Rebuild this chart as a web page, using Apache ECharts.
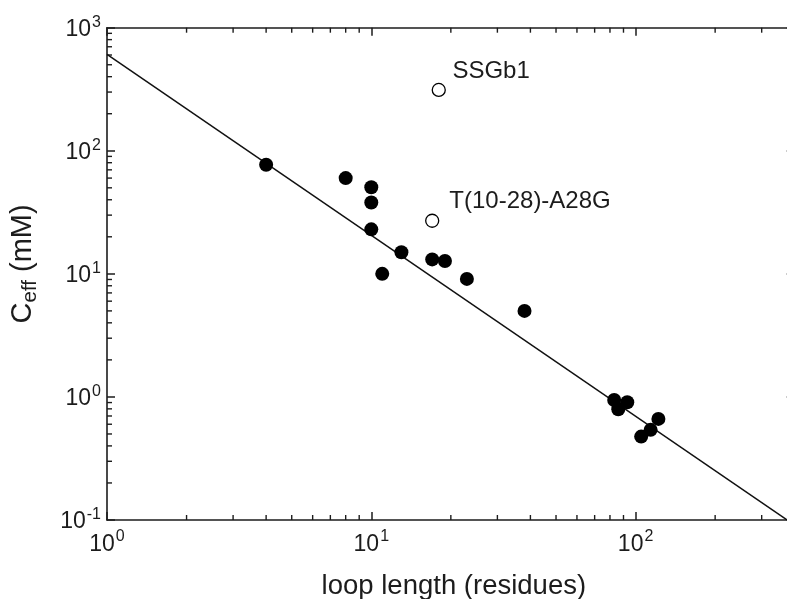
<!DOCTYPE html>
<html><head><meta charset="utf-8">
<script src="https://cdn.jsdelivr.net/npm/echarts@6/dist/echarts.min.js"></script>
<style>html,body{margin:0;padding:0;background:#fff}#c{width:787px;height:599px}</style>
</head><body><div id="c"></div>
<script>
// ---- data ----
const filledX = [4, 8, 10, 10, 10, 11, 13, 17, 19, 23, 38, 83, 86, 93, 105, 114, 122];
const filledY = [77, 60, 50.5, 38, 23, 10, 15, 13.1, 12.7, 9.1, 5.0, 0.945, 0.795, 0.906, 0.476, 0.54, 0.663];
const openX = [18, 17];
const openY = [312, 27];
const openNames = ['SSGb1', 'T(10-28)-A28G'];
const fitX = [1, 374];
const fitY = [608, 0.1];
const xMajorTicks = [1, 10, 100];
const yMajorTicks = [0.1, 1, 10, 100, 1000];
const xMinorTicks = [2, 3, 4, 5, 6, 7, 8, 9, 20, 30, 40, 50, 60, 70, 80, 90, 200, 300];
const yMinorTicks = [0.2, 0.3, 0.4, 0.5, 0.6, 0.7, 0.8, 0.9, 2, 3, 4, 5, 6, 7, 8, 9,
  20, 30, 40, 50, 60, 70, 80, 90, 200, 300, 400, 500, 600, 700, 800, 900];
const xTitle = 'loop length (residues)';
const yTitleMain = 'C', yTitleSub = 'eff', yTitleUnit = ' (mM)';
const X_MIN = 1, X_MAX = 400, Y_MIN = 0.1, Y_MAX = 1000;

// ---- chart ----
const INK = '#1c1c1c';
const FONT = 'Liberation Sans, Arial, sans-serif';
const chart = echarts.init(document.getElementById('c'), null, {renderer: 'canvas'});

function powLabel(list) {
  return function (v) {
    for (const t of list) {
      if (Math.abs(v - t) / t < 1e-6) {
        const e = Math.round(Math.log10(t));
        return '{b|10}{s|' + e + '}';
      }
    }
    return '';
  };
}
const labelRich = {
  b: {fontSize: 23, fontFamily: FONT, color: INK, lineHeight: 27, verticalAlign: 'bottom'},
  s: {fontSize: 16, fontFamily: FONT, color: INK, lineHeight: 16, verticalAlign: 'top', padding: [0, 0, 0, 1]}
};
const axisLine = {show: true, onZero: false, lineStyle: {color: INK, width: 1.6}};
const majorTick = {show: true, inside: true, length: 8, lineStyle: {color: INK, width: 1.5}};

const option = {
  animation: false,
  backgroundColor: '#fff',
  grid: {left: 107, top: 27.7, right: -7.7, bottom: 79, containLabel: false, outerBoundsMode: 'none'},
  xAxis: [
    {type: 'log', logBase: 10, min: X_MIN, max: X_MAX, position: 'bottom',
     axisLine: axisLine, axisTick: majorTick, splitLine: {show: false},
     axisLabel: {show: true, margin: 9, formatter: powLabel(xMajorTicks), rich: labelRich},
     name: xTitle, nameLocation: 'middle', nameGap: 52,
     nameTextStyle: {fontSize: 27.5, fontFamily: FONT, color: INK, padding: [0, 0, 0, 6]}},
    {type: 'log', logBase: 10, min: X_MIN, max: X_MAX, position: 'top',
     axisLine: axisLine, axisTick: majorTick, splitLine: {show: false}, axisLabel: {show: false}}
  ],
  yAxis: [
    {type: 'log', logBase: 10, min: Y_MIN, max: Y_MAX, position: 'left',
     axisLine: axisLine, axisTick: majorTick, splitLine: {show: false},
     axisLabel: {show: true, margin: 6, formatter: powLabel(yMajorTicks), rich: labelRich},
     name: '{c|' + yTitleMain + '}{sub|' + yTitleSub + '}{c|' + yTitleUnit + '}',
     nameLocation: 'middle', nameGap: 66, nameRotate: 90,
     nameTextStyle: {padding: [0, 0, 0, 20], rich: {
       c: {fontSize: 29, fontFamily: FONT, color: INK, lineHeight: 33, verticalAlign: 'top'},
       sub: {fontSize: 20.5, fontFamily: FONT, color: INK, lineHeight: 18, verticalAlign: 'bottom'}
     }}},
    {type: 'log', logBase: 10, min: Y_MIN, max: Y_MAX, position: 'right',
     axisLine: axisLine, axisTick: majorTick, splitLine: {show: false}, axisLabel: {show: false}}
  ],
  series: [
    {type: 'custom', coordinateSystem: 'cartesian2d', xAxisIndex: 0, yAxisIndex: 0, silent: true, clip: false,
     data: xMinorTicks.map(v => [v, Y_MIN]),
     renderItem: function (params, api) {
       const v = api.value(0);
       const b = api.coord([v, Y_MIN]);
       const t = api.coord([v, Y_MAX]);
       const st = {stroke: INK, lineWidth: 1.4};
       return {type: 'group', children: [
         {type: 'line', shape: {x1: b[0], y1: b[1], x2: b[0], y2: b[1] - 5}, style: st},
         {type: 'line', shape: {x1: t[0], y1: t[1], x2: t[0], y2: t[1] + 5}, style: st}
       ]};
     }},
    {type: 'custom', coordinateSystem: 'cartesian2d', xAxisIndex: 0, yAxisIndex: 0, silent: true, clip: false,
     data: yMinorTicks.map(v => [X_MIN, v]),
     renderItem: function (params, api) {
       const v = api.value(1);
       const l = api.coord([X_MIN, v]);
       const r = api.coord([X_MAX, v]);
       const st = {stroke: INK, lineWidth: 1.4};
       return {type: 'group', children: [
         {type: 'line', shape: {x1: l[0], y1: l[1], x2: l[0] + 5, y2: l[1]}, style: st},
         {type: 'line', shape: {x1: r[0], y1: r[1], x2: r[0] - 5, y2: r[1]}, style: st}
       ]};
     }},
    {type: 'line', name: 'fit', data: fitX.map((x, i) => [x, fitY[i]]), showSymbol: false, symbol: 'none',
     lineStyle: {color: '#111', width: 1.5}, silent: true, z: 2},
    {type: 'scatter', name: 'filled', data: filledX.map((x, i) => [x, filledY[i]]),
     symbol: 'circle', symbolSize: 14, itemStyle: {color: '#000', opacity: 1}, z: 3},
    {type: 'scatter', name: 'open', symbol: 'circle', symbolSize: 13,
     itemStyle: {color: '#fff', borderColor: '#000', borderWidth: 1.3, opacity: 1}, z: 3,
     data: openX.map((x, i) => ({value: [x, openY[i]], name: openNames[i],
       label: {show: true, position: 'right', distance: 0, offset: [i === 0 ? 6.5 : 10, -19],
         formatter: '{b}', fontSize: 24, fontFamily: FONT, color: INK}}))}
  ]
};
chart.setOption(option);
</script>
</body></html>
